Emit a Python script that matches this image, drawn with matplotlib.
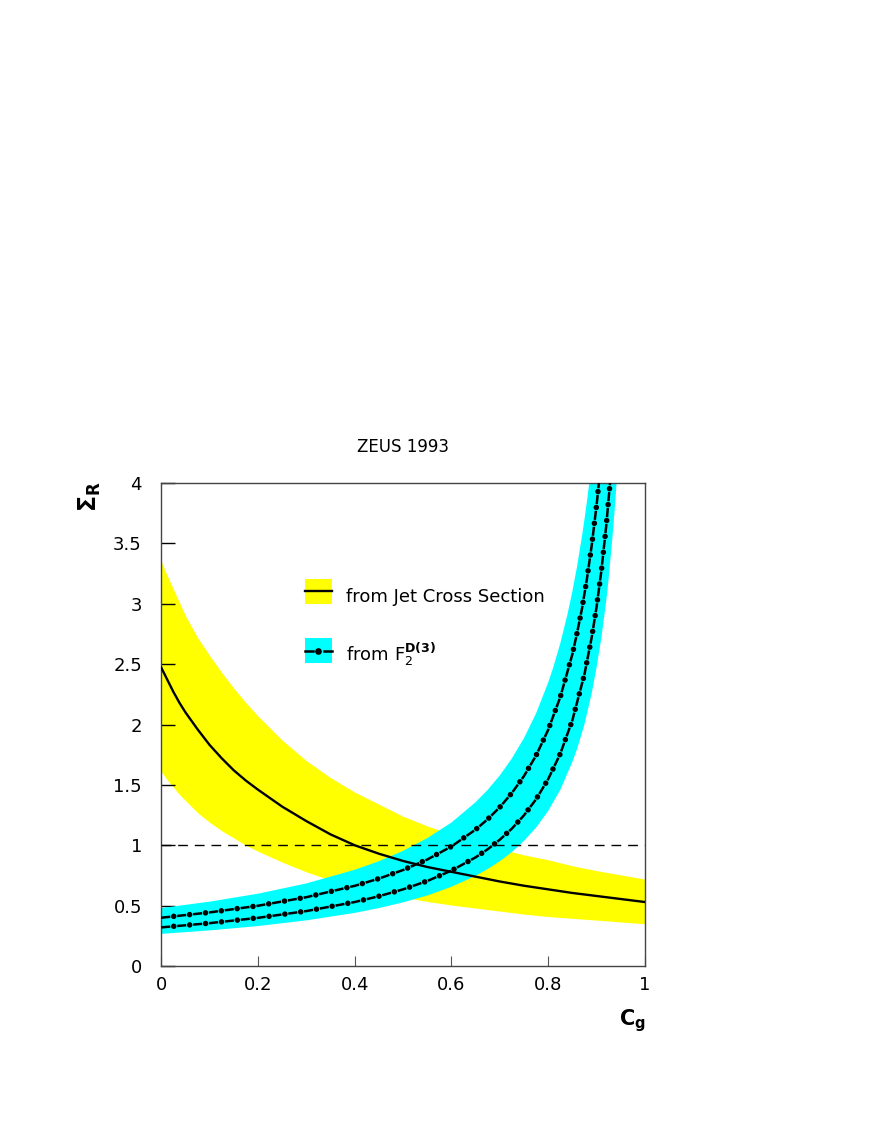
import matplotlib
matplotlib.use("Agg")
import matplotlib.pyplot as plt
from matplotlib.patches import Rectangle

plt.rcParams["font.family"] = ["DejaVu Sans"]
plt.rcParams["lines.scale_dashes"] = False

# jet cross section result: central curve and yellow band
jet_x = [0, .0125, .025, .0375, .05, .0625, .075, .1, .125, .15, .175, .2, .25, .3,
         .35, .4, .45, .5, .55, .6, .65, .7, .75, .8, .85, .9, .95, 1]
jet_mid = [2.47, 2.37, 2.27, 2.18, 2.10, 2.03, 1.96, 1.83, 1.72, 1.62, 1.535, 1.46,
           1.32, 1.20, 1.09, 1.00, 0.93, 0.87, 0.82, 0.78, 0.74, 0.70, 0.665, 0.635,
           0.605, 0.58, 0.555, 0.53]
jet_hi = [3.35, 3.23, 3.12, 3.01, 2.90, 2.81, 2.72, 2.57, 2.43, 2.30, 2.18, 2.07,
          1.87, 1.70, 1.56, 1.44, 1.34, 1.24, 1.16, 1.09, 1.03, 0.97, 0.92, 0.88,
          0.83, 0.79, 0.755, 0.72]
jet_lo = [1.61, 1.54, 1.48, 1.42, 1.37, 1.32, 1.27, 1.19, 1.12, 1.06, 1.00, 0.95,
          0.86, 0.78, 0.71, 0.655, 0.61, 0.57, 0.535, 0.505, 0.48, 0.455, 0.43, 0.41,
          0.395, 0.38, 0.365, 0.35]

# F2D(3) result: two dash-dot curves and the cyan band
f2a_x = [0, .1, .2, .3, .4, .45, .5, .55, .6, .65, .675, .7, .725, .75, .775, .8,
         .825, .85, .86, .87, .88, .89, .9, .905]
f2a_y = [0.40, 0.444, 0.499, 0.570, 0.664, 0.724, 0.795, 0.882, 0.99, 1.13, 1.216,
         1.315, 1.433, 1.573, 1.743, 1.955, 2.226, 2.58, 2.761, 2.96, 3.20, 3.48,
         3.81, 4.0]
f2b_x = [0, .1, .2, .3, .4, .45, .5, .55, .6, .65, .675, .7, .725, .75, .775, .8,
         .825, .85, .875, .89, .9, .91, .92, .928]
f2b_y = [0.32, 0.355, 0.399, 0.455, 0.530, 0.578, 0.635, 0.704, 0.790, 0.90, 0.967,
         1.046, 1.138, 1.248, 1.381, 1.547, 1.757, 2.034, 2.414, 2.72, 2.97, 3.27,
         3.64, 4.0]
band_hi_x = [0, .1, .2, .3, .4, .45, .5, .55, .6, .65, .675, .7, .725, .75, .775,
             .8, .81, .825, .84, .85, .86, .87, .875, .88, .886, .89]
band_hi_y = [0.48, 0.533, 0.599, 0.684, 0.797, 0.868, 0.954, 1.059, 1.188, 1.357,
             1.459, 1.578, 1.719, 1.887, 2.092, 2.346, 2.466, 2.67, 2.913, 3.10,
             3.313, 3.56, 3.694, 3.84, 4.03, 4.2]
band_lo_x = [0, .1, .2, .3, .4, .45, .5, .55, .6, .65, .675, .7, .725, .75, .775,
             .8, .825, .85, .86, .875, .89, .9, .91, .92, .925, .935, .942, .945]
band_lo_y = [0.266, 0.295, 0.331, 0.378, 0.440, 0.480, 0.527, 0.584, 0.656, 0.747,
             0.803, 0.868, 0.944, 1.036, 1.146, 1.284, 1.458, 1.69, 1.80, 2.00,
             2.257, 2.47, 2.714, 3.02, 3.20, 3.64, 4.02, 4.2]

x_ticks = [0, 0.2, 0.4, 0.6, 0.8, 1]
x_labels = ["0", "0.2", "0.4", "0.6", "0.8", "1"]
y_ticks = [0, 0.5, 1, 1.5, 2, 2.5, 3, 3.5, 4]
y_labels = ["0", "0.5", "1", "1.5", "2", "2.5", "3", "3.5", "4"]

YELLOW = "#ffff00"
CYAN = "#00ffff"
DASH = (0, (6.5, 5))
DOTS = (2.5, (0.01, 11.49))


def dashdot(ax, x, y):
    ax.plot(x, y, color="black", lw=1.8, linestyle=DASH, zorder=4)
    ax.plot(x, y, color="black", lw=4.0, linestyle=DOTS, dash_capstyle="round",
            zorder=4)


fig = plt.figure(figsize=(8.72, 11.28), dpi=100)
ax = fig.add_axes([0.185, 0.1436, 0.5545, 0.4282])

ax.fill_between(jet_x, jet_lo, jet_hi, color=YELLOW, lw=0, zorder=1)
ax.fill(band_hi_x + band_lo_x[::-1], band_hi_y + band_lo_y[::-1],
        color=CYAN, lw=0, zorder=2)
ax.axhline(1, color="black", lw=1, linestyle=(0, (7, 5)), zorder=3)
ax.plot(jet_x, jet_mid, color="black", lw=1.7, zorder=4)
dashdot(ax, f2a_x, f2a_y)
dashdot(ax, f2b_x, f2b_y)

# hand drawn legend
ax.add_patch(Rectangle((0.297, 3.0), 0.056, 0.205, color=YELLOW, lw=0, zorder=5))
ax.plot([0.297, 0.353], [3.105, 3.105], color="black", lw=1.7, zorder=6)
ax.text(0.382, 3.06, "from Jet Cross Section", fontsize=13, va="center", zorder=6)
ax.add_patch(Rectangle((0.297, 2.51), 0.056, 0.205, color=CYAN, lw=0, zorder=5))
ax.plot([0.297, 0.313], [2.61, 2.61], color="black", lw=1.8, zorder=6)
ax.plot([0.337, 0.353], [2.61, 2.61], color="black", lw=1.8, zorder=6)
ax.plot([0.325], [2.61], "o", color="black", ms=3.8, zorder=6)
ax.text(0.382, 2.58, r"from $\mathregular{F}_{2}^{\mathbf{D(3)}}$", fontsize=13,
        va="center", zorder=6)

ax.set_xlim(0, 1)
ax.set_ylim(0, 4)
ax.set_xticks(x_ticks)
ax.set_xticklabels(x_labels)
ax.set_yticks(y_ticks)
ax.set_yticklabels(y_labels)
ax.tick_params(axis="y", direction="in", length=10, width=1, pad=14, labelsize=13)
ax.tick_params(axis="x", direction="in", length=7, width=0.8, pad=7, labelsize=13,
               colors="#555555", labelcolor="black")
for s in ax.spines.values():
    s.set_color("#444444")
    s.set_linewidth(1)

ax.set_title("ZEUS 1993", fontsize=12, pad=22)
fig.text(0.725, 0.095, r"$\mathbf{C_g}$", fontsize=15, ha="center", va="center")
fig.text(0.103, 0.560, r"$\mathbf{\Sigma_R}$", fontsize=17, rotation=90,
         ha="center", va="center")

fig.savefig("out.png", dpi=100, facecolor="white")
